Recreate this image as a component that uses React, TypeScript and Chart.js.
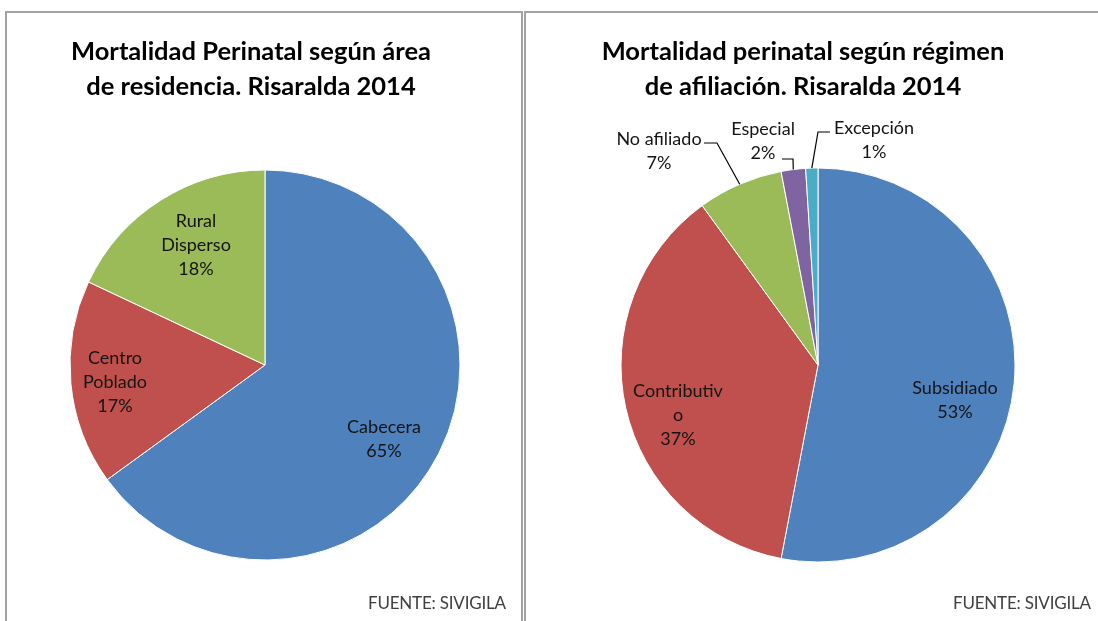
import React, { useEffect, useRef } from "react";
import { Chart, registerables } from "chart.js";

Chart.register(...registerables);

// ---------- data ----------
const leftTitle = ["Mortalidad Perinatal según área", "de residencia. Risaralda 2014"];
const leftCategories = ["Cabecera", "Centro Poblado", "Rural Disperso"];
const leftValues = [65, 17, 18];
const leftLabelLines = [["Cabecera"], ["Centro", "Poblado"], ["Rural", "Disperso"]];

const rightTitle = ["Mortalidad perinatal según régimen", "de afiliación. Risaralda 2014"];
const rightCategories = ["Subsidiado", "Contributivo", "No afiliado", "Especial", "Excepción"];
const rightValues = [53, 37, 7, 2, 1];
const rightLabelLines = [["Subsidiado"], ["Contributiv", "o"], ["No afiliado"], ["Especial"], ["Excepción"]];

const sourceText = "FUENTE: SIVIGILA";

// ---------- styles / layout ----------
const leftColors = ["#4F81BD", "#C0504D", "#9BBB59"];
const rightColors = ["#4F81BD", "#C0504D", "#9BBB59", "#8064A2", "#4BACC6"];

// label centre offsets relative to pie centre (px)
const leftLabelOffsets = [[119, 74], [-150, 17], [-69, -120]];
const rightLabelOffsets = [[137, 35], [-140, 50], [-159, -214], [-55, -224], [56, -225]];
// leader lines: [elbow, end] relative to pie centre, or null
const rightLeaders: (number[][] | null)[] = [
  null,
  null,
  [[-101, -222], [-114, -222]],
  [[-25, -206], [-36, -206]],
  [[0, -233], [12, -233]],
];

type PieCfg = {
  title: string[];
  titleX: number;
  categories: string[];
  values: number[];
  colors: string[];
  lines: string[][];
  offsets: number[][];
  leaders: (number[][] | null)[];
  width: number;
  height: number;
  padding: { left: number; right: number; top: number; bottom: number };
  radius: number;
};

function PieChart({ cfg }: { cfg: PieCfg }) {
  const ref = useRef<HTMLCanvasElement | null>(null);
  useEffect(() => {
    if (!ref.current) return;
    const overlay = {
      id: "overlay",
      afterDatasetsDraw(chart: any) {
        const ctx = chart.ctx as CanvasRenderingContext2D;
        const meta = chart.getDatasetMeta(0);
        ctx.save();
        // titles
        ctx.fillStyle = "#000";
        ctx.font = "bold 25.5px Lato";
        ctx.textAlign = "center";
        ctx.textBaseline = "alphabetic";
        cfg.title.forEach((t, i) => ctx.fillText(t, cfg.titleX, 60 + i * 35));
        // labels
        ctx.font = "18px Lato";
        ctx.fillStyle = "#141414";
        ctx.textBaseline = "middle";
        meta.data.forEach((arc: any, i: number) => {
          const p = arc.getProps(["x", "y", "startAngle", "endAngle", "outerRadius"], true);
          const lines = [...cfg.lines[i], cfg.values[i] + "%"];
          const cx = p.x + cfg.offsets[i][0];
          const cy = p.y + cfg.offsets[i][1];
          const lh = 24;
          const top = cy - ((lines.length - 1) * lh) / 2;
          lines.forEach((l, k) => ctx.fillText(l, cx, top + k * lh));
          const ld = cfg.leaders[i];
          if (ld) {
            const mid = (p.startAngle + p.endAngle) / 2;
            ctx.beginPath();
            ctx.strokeStyle = "#000";
            ctx.lineWidth = 1.2;
            ctx.moveTo(p.x + p.outerRadius * Math.cos(mid), p.y + p.outerRadius * Math.sin(mid));
            ctx.lineTo(p.x + ld[0][0], p.y + ld[0][1]);
            ctx.lineTo(p.x + ld[1][0], p.y + ld[1][1]);
            ctx.stroke();
          }
        });
        ctx.restore();
      },
    };
    const chart = new Chart(ref.current, {
      type: "pie",
      data: {
        labels: cfg.categories,
        datasets: [
          {
            data: cfg.values,
            backgroundColor: cfg.colors,
            borderColor: "#ffffff",
            borderWidth: 1,
            hoverOffset: 0,
            offset: 0,
          } as any,
        ],
      },
      options: {
        animation: false,
        responsive: false,
        radius: cfg.radius,
        layout: { padding: cfg.padding },
        plugins: {
          legend: { display: false },
          title: { display: false },
          tooltip: { enabled: false },
        },
      } as any,
      plugins: [overlay],
    });
    return () => chart.destroy();
  }, [cfg]);
  return <canvas ref={ref} width={cfg.width} height={cfg.height} style={{ display: "block" }} />;
}

const leftCfg: PieCfg = {
  title: leftTitle,
  titleX: 251,
  categories: leftCategories,
  values: leftValues,
  colors: leftColors,
  lines: leftLabelLines,
  offsets: leftLabelOffsets,
  leaders: leftCategories.map(() => null),
  width: 523,
  height: 621,
  padding: { left: 65, right: 58, top: 165, bottom: 56 },
  radius: 195,
};

const rightCfg: PieCfg = {
  title: rightTitle,
  titleX: 280,
  categories: rightCategories,
  values: rightValues,
  colors: rightColors,
  lines: rightLabelLines,
  offsets: rightLabelOffsets,
  leaders: rightLeaders,
  width: 575,
  height: 621,
  padding: { left: 95, right: 80, top: 165, bottom: 56 },
  radius: 197,
};

const sourceStyle: React.CSSProperties = {
  position: "absolute",
  top: 593,
  fontSize: 17,
  lineHeight: "20px",
  color: "#404040",
  letterSpacing: -0.2,
  whiteSpace: "nowrap",
};

export default function App() {
  return (
    <div
      style={{
        position: "fixed",
        left: 0,
        top: 0,
        width: 1098,
        height: 621,
        overflow: "hidden",
        background: "#fff",
        fontFamily: "Lato, sans-serif",
      }}
    >
      <div
        style={{
          position: "absolute",
          left: 5,
          top: 11,
          width: 518,
          height: 700,
          boxSizing: "border-box",
          border: "2px solid #a3a3a3",
        }}
      />
      <div
        style={{
          position: "absolute",
          left: 524,
          top: 11,
          width: 700,
          height: 700,
          boxSizing: "border-box",
          borderLeft: "2px solid #a3a3a3",
          borderTop: "2px solid #a3a3a3",
        }}
      />
      <div style={{ position: "absolute", left: 0, top: 0 }}>
        <PieChart cfg={leftCfg} />
      </div>
      <div style={{ position: "absolute", left: 523, top: 0 }}>
        <PieChart cfg={rightCfg} />
      </div>
      <div style={{ ...sourceStyle, left: 368 }}>{sourceText}</div>
      <div style={{ ...sourceStyle, left: 953 }}>{sourceText}</div>
    </div>
  );
}
